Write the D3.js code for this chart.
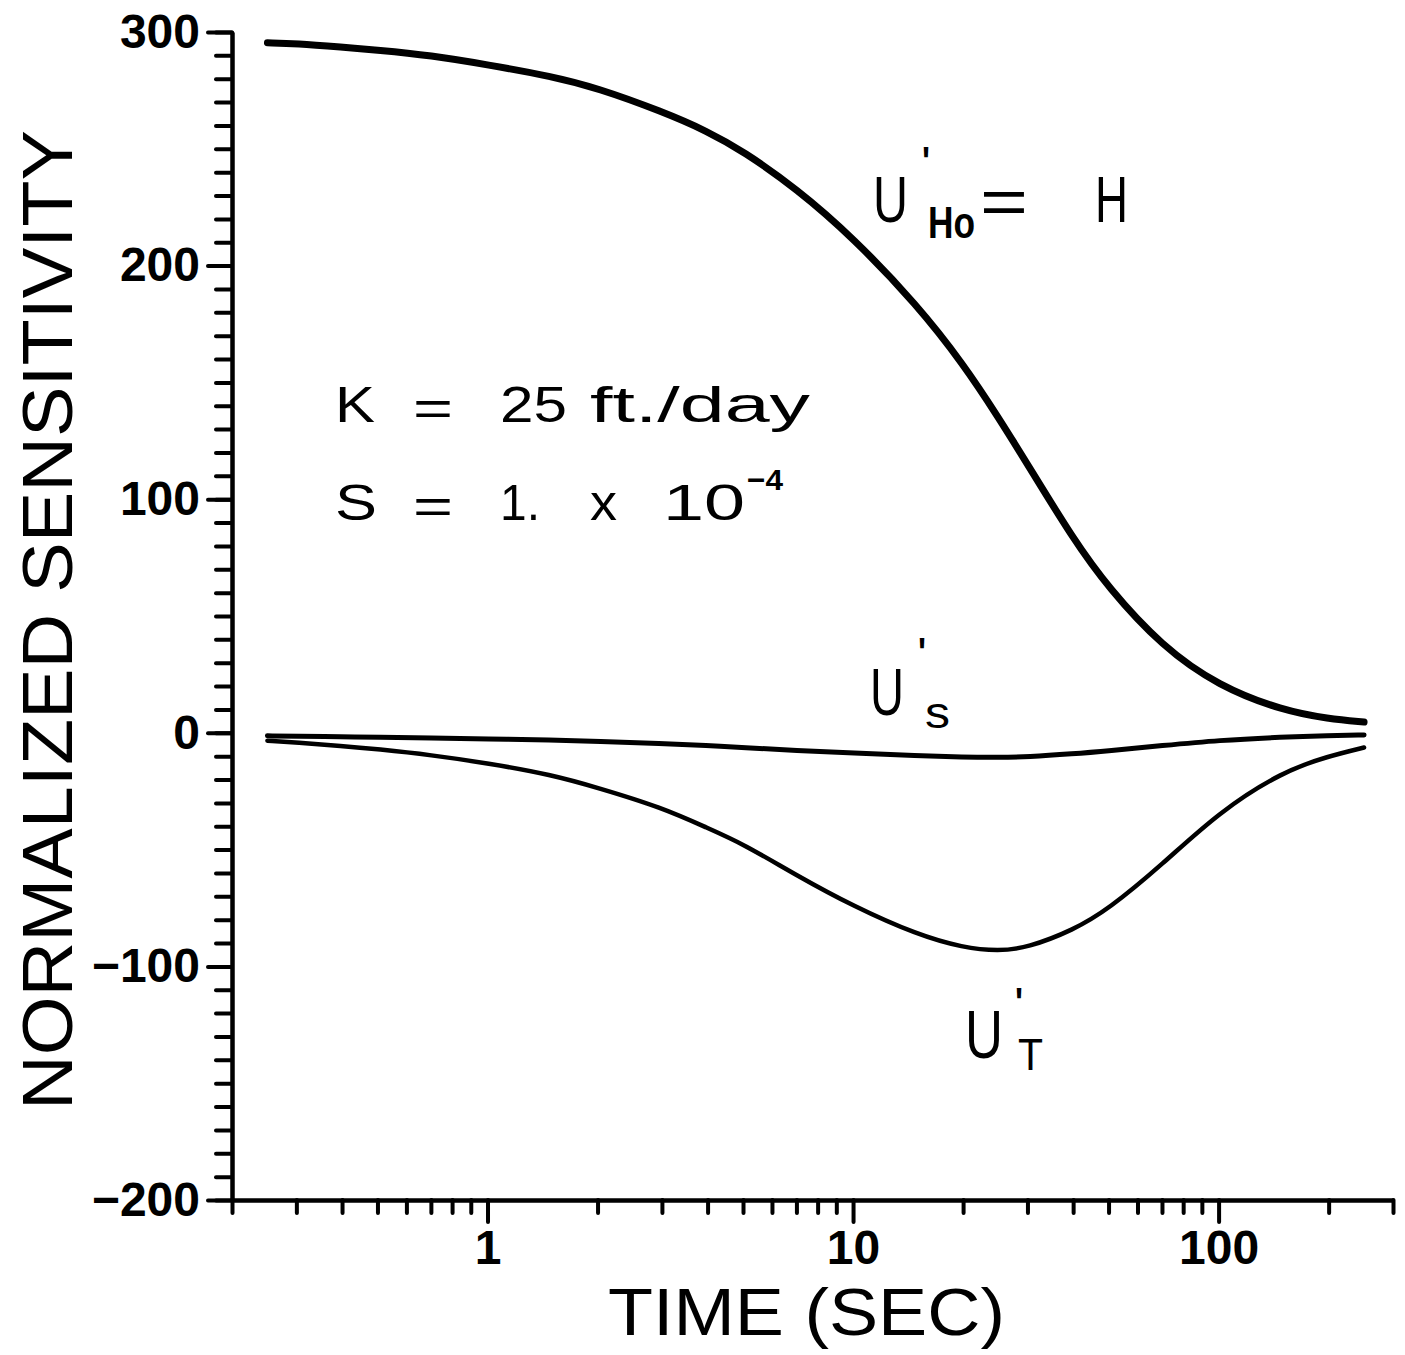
<!DOCTYPE html>
<html>
<head>
<meta charset="utf-8">
<script src="https://cdn.jsdelivr.net/npm/d3@7"></script>
<style>
  body { margin: 0; background: #fff; }
  svg { display: block; }
</style>
</head>
<body>
<div id="chart"></div>
<script>
// time in seconds and the three normalized sensitivities
var times = [0.25, 0.3, 0.4, 0.5, 0.7, 1, 1.5, 2, 3, 4, 5, 7, 10, 15, 20, 25, 30, 40, 50, 70, 100, 150, 200, 250];
var sensH = [295.4, 295, 293.5, 292.3, 290, 286, 281, 276, 266, 257.5, 249, 233, 212, 183, 158, 135, 115, 83, 62, 37, 20, 9.5, 6, 4.6];
var sensS = [-1.3, -1.4, -1.7, -1.9, -2.2, -2.6, -3.1, -3.6, -4.6, -5.5, -6.3, -7.6, -8.6, -9.8, -10.4, -10.5, -10.3, -9, -7.7, -5.5, -3.2, -1.8, -1.2, -0.9];
var sensT = [-3.4, -4.2, -5.6, -7, -9.5, -13, -18, -23.5, -32, -40.8, -47.5, -61, -74.2, -86.5, -92, -93.5, -92, -84.5, -75.5, -56.5, -34, -16.5, -10, -6.3];

var xMajor = [1, 10, 100];
var xMinor = [0.2, 0.3, 0.4, 0.5, 0.6, 0.7, 0.8, 0.9,
              2, 3, 4, 5, 6, 7, 8, 9,
              20, 30, 40, 50, 60, 70, 80, 90,
              200, 300];
var yMajor = [-200, -100, 0, 100, 200, 300];
var yMinor = d3.range(-200, 301, 10);

var width = 1405, height = 1355;
var font = "'Liberation Sans', Arial, sans-serif";

var svg = d3.select('#chart').append('svg')
    .attr('width', width)
    .attr('height', height)
    .style('background', '#fff');

var x = d3.scaleLog().domain([0.2, 300]).range([232, 1393]);
var y = d3.scaleLinear().domain([-200, 300]).range([1200, 32]);

function styleAxis(g) {
  g.select('.domain').attr('stroke', '#000').attr('stroke-width', 4);
  g.selectAll('.tick line').attr('stroke', '#000').attr('stroke-width', 4).attr('stroke-linecap', 'round');
  g.selectAll('.tick text')
    .attr('fill', '#000')
    .style('font-family', font)
    .style('font-weight', 'bold')
    .style('font-size', '48px');
}

// y axis: minor ticks every 10, majors every 100
svg.append('g')
    .attr('transform', 'translate(232,0)')
    .call(d3.axisLeft(y).tickValues(yMinor).tickSize(16).tickSizeOuter(0).tickFormat(''))
    .call(styleAxis);

svg.append('g')
    .attr('transform', 'translate(232,0)')
    .call(d3.axisLeft(y).tickValues(yMajor).tickSize(24).tickSizeOuter(0).tickPadding(8))
    .call(styleAxis);

// x axis (log)
svg.append('g')
    .attr('transform', 'translate(0,1200)')
    .call(d3.axisBottom(x).tickValues(xMinor).tickSize(13).tickSizeOuter(0).tickFormat(''))
    .call(styleAxis);

svg.append('g')
    .attr('transform', 'translate(0,1200)')
    .call(d3.axisBottom(x).tickValues(xMajor).tickSize(22).tickSizeOuter(0).tickPadding(8).tickFormat(d3.format('d')))
    .call(styleAxis);

// curves
var line = d3.line()
    .x(function(d) { return x(d[0]); })
    .y(function(d) { return y(d[1]); })
    .curve(d3.curveBasis);

var series = [
  {vals: sensH, w: 7},
  {vals: sensS, w: 5},
  {vals: sensT, w: 4.5}
];

svg.selectAll('.curve')
    .data(series)
  .enter().append('path')
    .attr('class', 'curve')
    .attr('fill', 'none')
    .attr('stroke', '#000')
    .attr('stroke-linecap', 'round')
    .attr('stroke-width', function(d) { return d.w; })
    .attr('d', function(d) {
      return line(times.map(function(t, i) { return [t, d.vals[i]]; }));
    });

// axis titles
svg.append('text')
    .attr('transform', 'translate(72,620) rotate(-90)')
    .attr('text-anchor', 'middle')
    .attr('textLength', 980)
    .attr('lengthAdjust', 'spacingAndGlyphs')
    .style('font-family', font)
    .style('font-size', '70px')
    .text('NORMALIZED  SENSITIVITY');

svg.append('text')
    .attr('x', 608)
    .attr('y', 1335)
    .attr('textLength', 397)
    .attr('lengthAdjust', 'spacingAndGlyphs')
    .style('font-family', font)
    .style('font-size', '66px')
    .text('TIME  (SEC)');

// one text element made of positioned pieces
function label(parts) {
  var t = svg.append('text').style('font-family', font);
  parts.forEach(function(p) {
    var s = t.append('tspan')
        .attr('x', p.x)
        .attr('y', p.y)
        .style('font-size', p.size + 'px')
        .style('font-weight', p.bold ? 'bold' : 'normal')
        .text(p.t);
    if (p.len) s.attr('textLength', p.len).attr('lengthAdjust', 'spacingAndGlyphs');
  });
  return t;
}

// parameter note
label([
  {t: 'K', x: 335, y: 422, len: 40, size: 50},
  {t: '=', x: 413, y: 425, len: 40, size: 50},
  {t: '25', x: 500, y: 422, len: 67, size: 50},
  {t: 'ft./day', x: 590, y: 422, len: 220, size: 50}
]);
label([
  {t: 'S', x: 335, y: 520, len: 42, size: 50},
  {t: '=', x: 413, y: 523, len: 40, size: 50},
  {t: '1.', x: 500, y: 520, len: 40, size: 50},
  {t: 'x', x: 590, y: 520, len: 27, size: 50},
  {t: '10', x: 663, y: 520, len: 82, size: 50},
  {t: '\u22124', x: 747, y: 490, len: 36, size: 30, bold: true}
]);

// curve labels
label([
  {t: 'U', x: 873, y: 222, len: 35, size: 64},
  {t: "'", x: 922, y: 175, len: 8, size: 40, bold: true},
  {t: 'Ho', x: 928, y: 238, len: 47, size: 44, bold: true},
  {t: '=', x: 980, y: 224, len: 48, size: 64},
  {t: 'H', x: 1095, y: 222, len: 33, size: 64}
]);
label([
  {t: 'U', x: 870, y: 715, len: 34, size: 66},
  {t: "'", x: 918, y: 666, len: 8, size: 40, bold: true},
  {t: 's', x: 925, y: 728, len: 25, size: 44}
]);
label([
  {t: 'U', x: 965, y: 1058, len: 38, size: 68},
  {t: "'", x: 1015, y: 1016, len: 8, size: 40, bold: true},
  {t: 'T', x: 1018, y: 1070, len: 25, size: 44}
]);
</script>
</body>
</html>
